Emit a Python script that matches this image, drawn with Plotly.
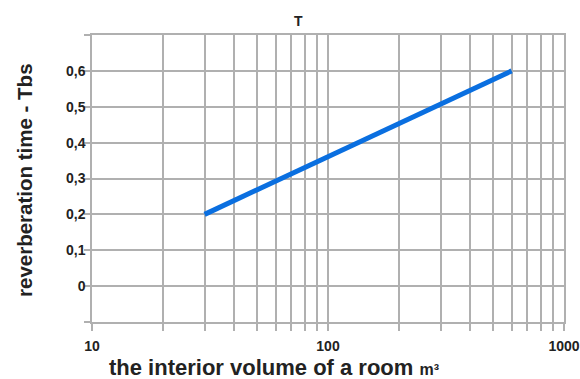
import plotly.graph_objects as go

volume = [30, 600]
reverb = [0.2, 0.6]
y_ticks = [-0.1, 0, 0.1, 0.2, 0.3, 0.4, 0.5, 0.6, 0.7]
y_labels = ["", "0", "0,1", "0,2", "0,3", "0,4", "0,5", "0,6", ""]
x_ticks = [10, 20, 30, 40, 50, 60, 70, 80, 90, 100, 200, 300, 400, 500, 600, 700, 800, 900, 1000]
x_labels = ["10", "", "", "", "", "", "", "", "", "100", "", "", "", "", "", "", "", "", "1000"]

W, H = 580, 379
px_left, px_right, px_top, px_bottom = 92, 564, 35, 322
L = px_left
R = W - px_right
T = px_top
B = H - px_bottom
PW, PH = W - L - R, H - T - B


def xp(px):
    return (px - L) / PW


def yp(py):
    return ((H - B) - py) / PH


grid = "#b0b0b0"
ink = "#222222"
fam = "Liberation Sans, Arial, sans-serif"

fig = go.Figure()
fig.add_trace(go.Scatter(x=volume, y=reverb, mode="lines",
                         line=dict(color="#0a6fe0", width=5), showlegend=False))

fig.update_layout(
    width=W, height=H,
    margin=dict(l=L, r=R, t=T, b=B, autoexpand=False),
    plot_bgcolor="white", paper_bgcolor="white",
    font=dict(family=fam, color=ink),
)
fig.update_xaxes(type="log", range=[1, 3], tickvals=x_ticks, ticktext=x_labels,
                 showgrid=True, gridcolor=grid, gridwidth=1.5,
                 showline=True, mirror=True, linecolor=grid, linewidth=1.5,
                 ticks="outside", ticklen=7, tickcolor=grid, tickwidth=1.5,
                 tickfont=dict(size=14, family=fam, color=ink, weight="bold"),
                 ticklabelstandoff=3,
                 zeroline=False)
fig.update_yaxes(range=[-0.1, 0.7], tickvals=y_ticks, ticktext=y_labels,
                 showgrid=True, gridcolor=grid, gridwidth=1.5,
                 showline=True, mirror=True, linecolor=grid, linewidth=1.5,
                 ticks="outside", ticklen=6, tickcolor=grid, tickwidth=1.5,
                 tickfont=dict(size=14, family=fam, color=ink, weight="bold"),
                 ticklabelstandoff=-4,
                 zeroline=False)

fig.add_annotation(text="<b>T</b>", xref="paper", yref="paper",
                   x=xp(298), y=yp(21), xanchor="center", yanchor="middle", showarrow=False,
                   font=dict(size=14, family=fam, color=ink))
fig.add_annotation(text="<b>the interior volume of a room </b><span style='font-size:16px'><b>m³</b></span>",
                   xref="paper", yref="paper",
                   x=xp(107), y=yp(367), xanchor="left", yanchor="middle", showarrow=False,
                   font=dict(size=22, family=fam, color=ink))
fig.add_annotation(text="<b>reverberation time - Tbs</b>", xref="paper", yref="paper",
                   x=xp(24), y=yp(180),
                   textangle=-90, xanchor="center", yanchor="middle", showarrow=False,
                   font=dict(size=20.5, family=fam, color=ink))

fig.write_html("out.html",
               config={"displayModeBar": False},
               post_script="document.body.style.margin='0';document.body.style.overflow='hidden';")
